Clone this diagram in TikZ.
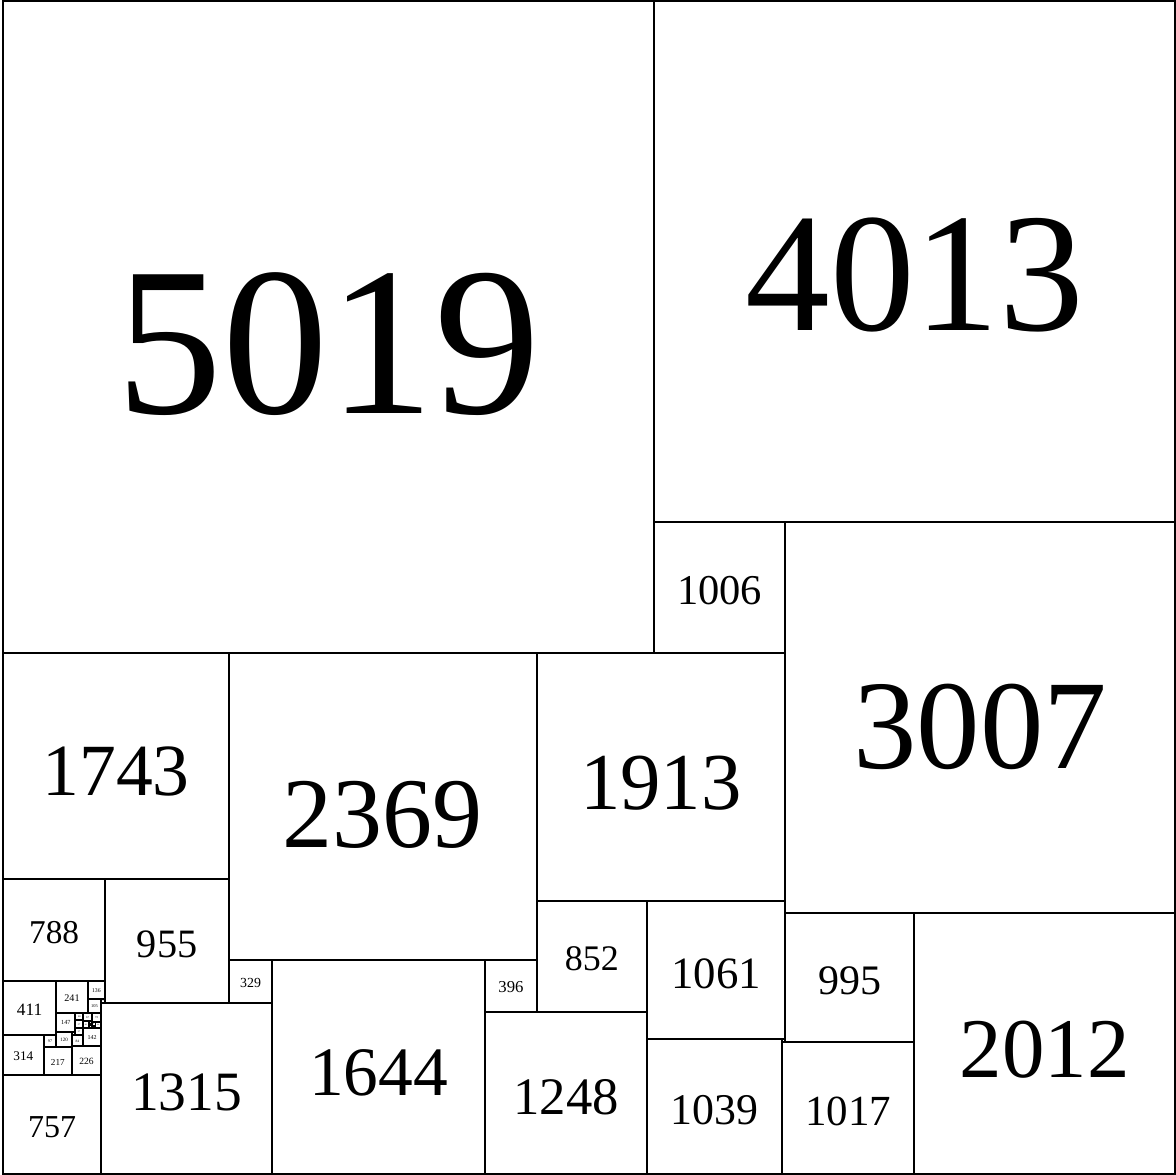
\documentclass[tikz,border=0pt]{standalone}
\usepackage{fontspec}
\setmainfont{Liberation Serif}
\tikzset{
  sqline/.style={line width=0.15cm, line join=miter},
  sqlabel/.style={anchor=base, inner sep=0pt, outer sep=0pt}
}
% square without label: name, x, y (image coords, y down), side
\newcommand\sqr[4]{%
  \pgfmathsetmacro\sqX{#2}%
  \pgfmathsetmacro\sqY{9032-#3-#4}%
  \draw[sqline] (\sqX,\sqY) rectangle ++(#4,#4);%
}
% square with its side printed in it
\newcommand\sqrl[4]{%
  \sqr{#1}{#2}{#3}{#4}%
  \pgfmathsetmacro\sqFs{0.0925*#4}%
  \pgfmathsetmacro\sqCx{#2+#4/2}%
  \pgfmathsetmacro\sqBy{9032-#3-#4/2-0.132*#4}%
  \node[sqlabel, font={\fontsize{\sqFs pt}{\sqFs pt}\selectfont}] (#1) at (\sqCx,\sqBy) {#4};%
}
\begin{document}
\begin{tikzpicture}[x=0.01cm, y=0.01cm]
\useasboundingbox[fill=white] (-23,-10) rectangle (9038,9043);
\sqrl{q5019}{0}{0}{5019}
\sqrl{q4013}{5019}{0}{4013}
\sqrl{q1006}{5019}{4013}{1006}
\sqrl{q3007}{6025}{4013}{3007}
\sqrl{q1743}{0}{5019}{1743}
\sqrl{q2369}{1743}{5019}{2369}
\sqrl{q1913}{4112}{5019}{1913}
\sqrl{q788}{0}{6762}{788}
\sqrl{q955}{788}{6762}{955}
\sqrl{q852}{4112}{6932}{852}
\sqrl{q1061}{4964}{6932}{1061}
\sqrl{q995}{6025}{7020}{995}
\sqrl{q2012}{7020}{7020}{2012}
\sqrl{q329}{1743}{7388}{329}
\sqrl{q1644}{2072}{7388}{1644}
\sqrl{q396}{3716}{7388}{396}
\sqrl{q1248}{3716}{7784}{1248}
\sqrl{q1039}{4964}{7993}{1039}
\sqrl{q22}{6003}{7993}{22}
\sqrl{q1017}{6003}{8015}{1017}
\sqrl{q1315}{757}{7717}{1315}
\sqrl{q757}{0}{8275}{757}
\sqrl{q411}{0}{7550}{411}
\sqrl{q314}{0}{7961}{314}
\sqrl{q241}{411}{7550}{241}
\sqrl{q136}{652}{7550}{136}
\sqrl{q105}{652}{7686}{105}
\sqrl{q31}{757}{7686}{31}
\sqrl{q147}{411}{7791}{147}
\sqrl{q97}{314}{7961}{97}
\sqrl{q120}{411}{7938}{120}
\sqrl{q217}{314}{8058}{217}
\sqrl{q226}{531}{8049}{226}
\sqrl{q84}{531}{7965}{84}
\sqrl{q142}{615}{7907}{142}
\sqrl{q27}{531}{7938}{27}
% innermost cluster
\sqrl{q60}{558}{7791}{60}
\sqrl{q67}{618}{7791}{67}
\sqrl{q72}{685}{7791}{72}
\sqrl{q44}{713}{7863}{44}
\sqrl{q57a}{558}{7851}{57}
\sqrl{q57b}{558}{7908}{57}
\sqr{q3a}{615}{7851}{3}
\sqr{q3b}{615}{7854}{3}
\sqr{q1a}{615}{7857}{1}
\sqr{q1b}{616}{7857}{1}
\sqr{q1c}{617}{7857}{1}
\sqrl{q49}{615}{7858}{49}
\sqrl{q21a}{664}{7858}{21}
\sqrl{q28}{685}{7863}{28}
\sqrl{q16}{697}{7891}{16}
\sqrl{q12}{685}{7895}{12}
\sqr{q4a}{685}{7891}{4}
\sqr{q4b}{689}{7891}{4}
\sqr{q4c}{693}{7891}{4}
\sqrl{q21b}{664}{7886}{21}
\sqr{q7a}{664}{7879}{7}
\sqr{q7b}{671}{7879}{7}
\sqr{q7c}{678}{7879}{7}
\end{tikzpicture}
\end{document}
